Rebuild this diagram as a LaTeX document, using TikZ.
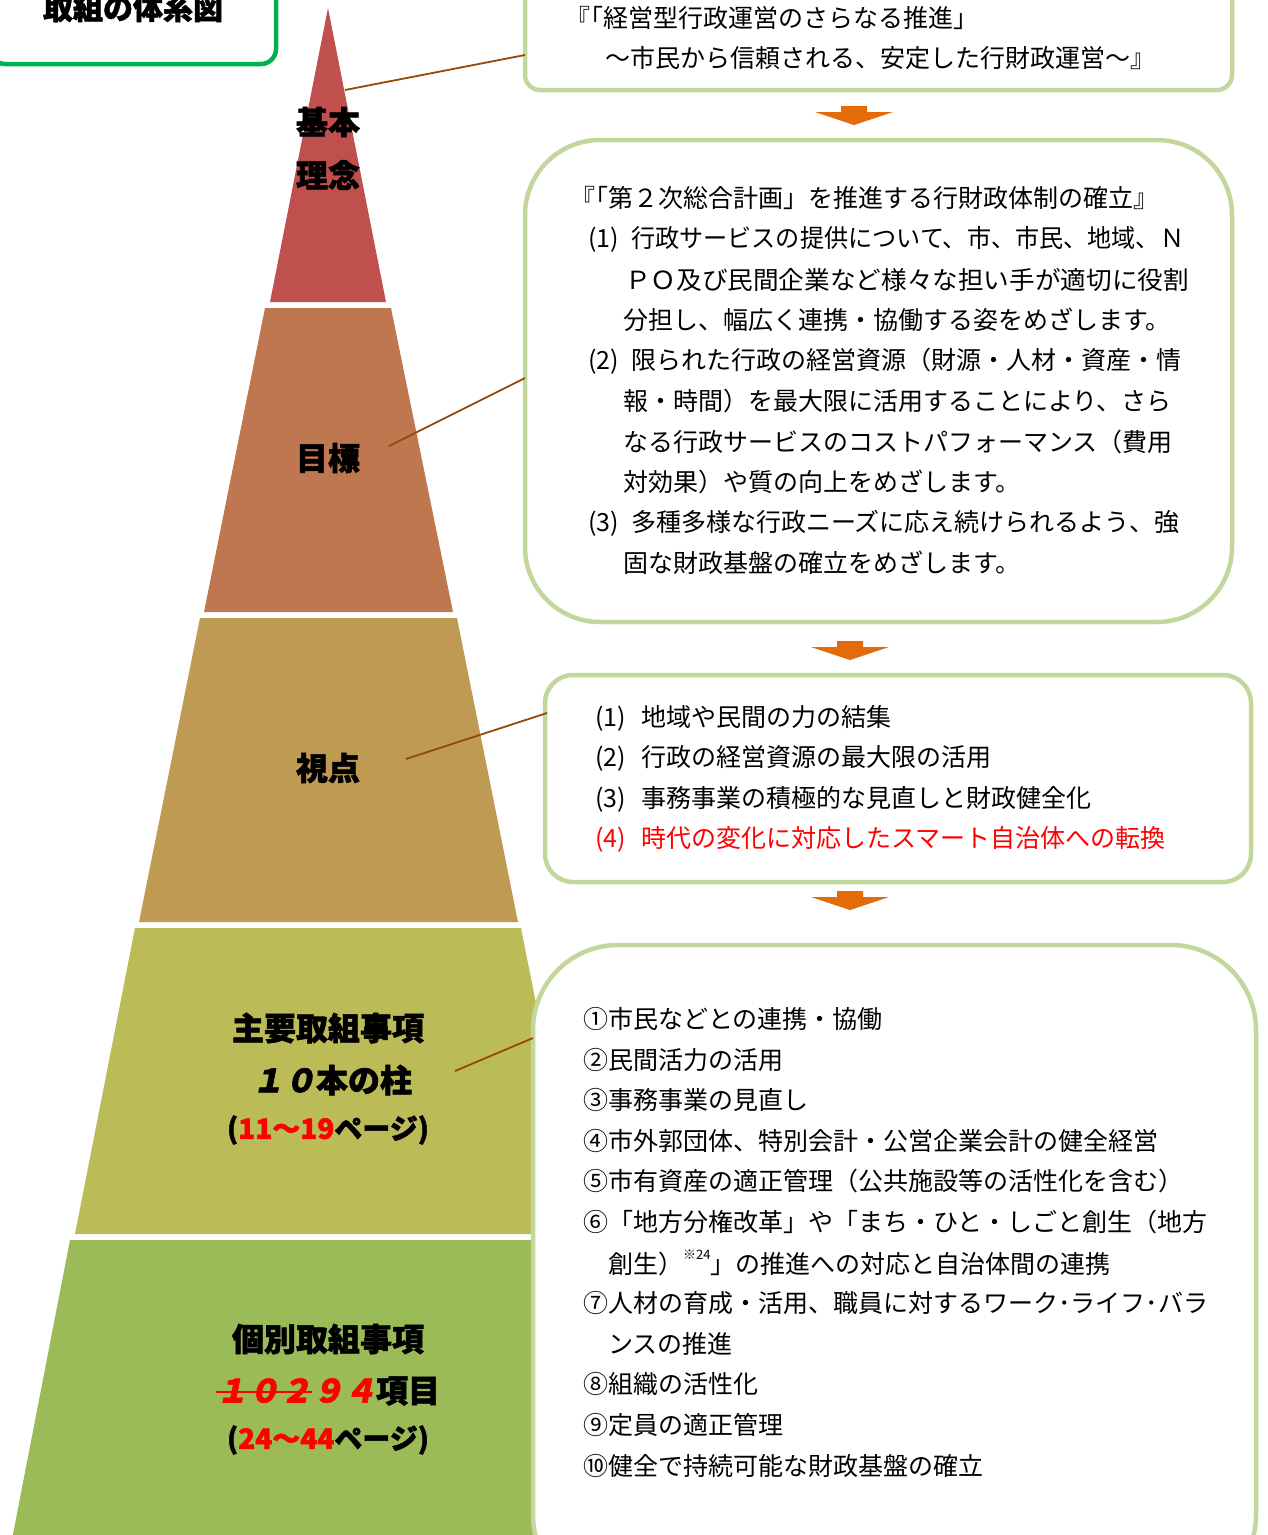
\documentclass[tikz,border=0pt]{standalone}
\usepackage{fontspec}
\usepackage{graphicx}
\newfontfamily\jp{Noto Sans CJK JP}
\newfontfamily\jph{Noto Sans CJK JP}[BoldFeatures={FakeBold=1.6}]
\newfontfamily\jpsl{Noto Sans CJK JP}[FakeSlant=0.2, BoldFeatures={FakeBold=1.6}]
\usetikzlibrary{calc}
\definecolor{tierA}{HTML}{C0504D}
\definecolor{tierB}{HTML}{BF7750}
\definecolor{tierC}{HTML}{BE9A52}
\definecolor{tierD}{HTML}{BBBB58}
\definecolor{tierE}{HTML}{9BBB59}
\definecolor{boxline}{HTML}{C3D69B}
\definecolor{titleline}{HTML}{00B050}
\definecolor{arrowc}{HTML}{E36C09}
\definecolor{conn}{HTML}{984806}
\newcommand\strk[1]{\sbox0{#1}\rlap{\raisebox{0.3em}{\color{red}\rule{\wd0}{2pt}}}\usebox0}
\newcommand\openq{\hspace*{-0.5em}『\hspace{-0.5em}「}
\newcommand\itm[2]{\makebox[#1][l]{#2}}
\tikzset{
  txt/.style={anchor=west, inner sep=0pt, font=\jp\fontsize{25}{30}\selectfont},
  lbl/.style={inner sep=0pt, font=\jph\bfseries\fontsize{32}{36}\selectfont},
  bx/.style={draw=boxline, line width=4.5pt, fill=white},
  connector/.style={draw=conn, line width=1.8pt},
  blockarrow/.style={fill=arrowc}
}
\begin{document}
\begin{tikzpicture}[x=1pt, y=-1pt]
\useasboundingbox (0,0) rectangle (1268,1535);
\clip (0,0) rectangle (1268,1535);
% title box
\draw[titleline, line width=4.5pt, rounded corners=15pt] (-10,-60) rectangle (276,64);
\node[lbl, font=\jph\bfseries\fontsize{30}{34}\selectfont] (title) at (133,8) {取組の体系図};
% pyramid
\fill[tierA] (328,8) -- (386,302) -- (270,302) -- cycle;
\fill[tierB] (265,308) -- (391,308) -- (453,612) -- (204,612) -- cycle;
\fill[tierC] (200,618) -- (457,618) -- (518,922) -- (139,922) -- cycle;
\fill[tierD] (135,928) -- (521,928) -- (582,1234) -- (75,1234) -- cycle;
\fill[tierE] (70,1240) -- (587,1240) -- (650,1560) -- (8,1560) -- cycle;
% pyramid labels
\node[lbl] (kihon1) at (328,122) {基本};
\node[lbl] (kihon2) at (328,175) {理念};
\node[lbl] (mokuhyo) at (328,458) {目標};
\node[lbl] (shiten) at (328,768) {視点};
\node[lbl] (shuyo1) at (328,1028) {主要取組事項};
\node[lbl] (shuyo2) at (332,1080) {{\jpsl\bfseries １０}本の柱};
\node[lbl, font=\jph\bfseries\fontsize{28}{32}\selectfont] (shuyo3) at (328,1130) {(\textcolor{red}{11～19}ページ)};
\node[lbl] (kobetsu1) at (328,1339) {個別取組事項};
\node[lbl] (kobetsu2) at (328,1391) {\textcolor{red}{\jpsl\bfseries\strk{１０２}９４}項目};
\node[lbl, font=\jph\bfseries\fontsize{28}{32}\selectfont] (kobetsu3) at (328,1440) {(\textcolor{red}{24～44}ページ)};
% boxes
\draw[bx, rounded corners=15pt] (525,-60) rectangle (1232,90);
\draw[bx, rounded corners=75pt] (525,140) rectangle (1232,622);
\draw[bx, rounded corners=28pt] (545,675) rectangle (1251,882);
\draw[bx, rounded corners=85pt] (533,945) rectangle (1256,1600);
% connectors
\coordinate (p1) at (345,90);  \coordinate (e1) at (525,55);
\coordinate (p2) at (389,446); \coordinate (e2) at (525,378);
\coordinate (p3) at (406,759); \coordinate (e3) at (547,713);
\coordinate (p4) at (455,1071); \coordinate (e4) at (533,1038);
\draw[connector] (p1) -- (e1);
\draw[connector] (p2) -- (e2);
\draw[connector] (p3) -- (e3);
\draw[connector] (p4) -- (e4);
% block arrows
\foreach \ax/\ay in {854/115, 850/650, 850/900}{
  \fill[blockarrow, shift={(\ax,\ay)}] (-13,-9) -- (13,-9) -- (13,-3) -- (39,-3) -- (0,10) -- (-39,-3) -- (-13,-3) -- cycle;
}
% box 1 text
\node[txt] (b1a) at (578,18) {\openq 経営型行政運営のさらなる推進」};
\node[txt] (b1b) at (605,58) {～市民から信頼される、安定した行財政運営～』};
% box 2 text
\node[txt] (b2a) at (583,198) {\openq 第２次総合計画」を推進する行財政体制の確立』};
\node[txt] (b2b) at (588,239) {\itm{43pt}{(1)}\scalebox{0.965}[1]{行政サービスの提供について、市、市民、地域、Ｎ}};
\node[txt] (b2c) at (625,280) {\scalebox{1.025}[1]{ＰＯ及び民間企業など様々な担い手が適切に役割}};
\node[txt] (b2d) at (623,320) {分担し、幅広く連携・協働する姿をめざします。};
\node[txt] (b2e) at (588,361) {\itm{43pt}{(2)}限られた行政の経営資源（財源・人材・資産・情};
\node[txt] (b2f) at (623,401) {報・時間）を最大限に活用することにより、さら};
\node[txt] (b2g) at (623,442) {なる行政サービスのコストパフォーマンス（費用};
\node[txt] (b2h) at (623,482) {対効果）や質の向上をめざします。};
\node[txt] (b2i) at (588,523) {\itm{43pt}{(3)}多種多様な行政ニーズに応え続けられるよう、強};
\node[txt] (b2j) at (623,563) {固な財政基盤の確立をめざします。};
% box 3 text
\node[txt] (b3a) at (595,718) {\itm{46pt}{(1)}地域や民間の力の結集};
\node[txt] (b3b) at (595,758) {\itm{46pt}{(2)}行政の経営資源の最大限の活用};
\node[txt] (b3c) at (595,799) {\itm{46pt}{(3)}事務事業の積極的な見直しと財政健全化};
\node[txt, text=red] (b3d) at (595,839) {\itm{46pt}{(4)}時代の変化に対応したスマート自治体への転換};
% box 4 text
\node[txt] (b4a) at (583,1019) {①市民などとの連携・協働};
\node[txt] (b4b) at (583,1060) {②民間活力の活用};
\node[txt] (b4c) at (583,1100) {③事務事業の見直し};
\node[txt] (b4d) at (583,1141) {④市外郭団体、特別会計・公営企業会計の健全経営};
\node[txt] (b4e) at (583,1181) {⑤市有資産の適正管理（公共施設等の活性化を含む）};
\node[txt] (b4f) at (583,1222) {⑥「地方分権改革」や「まち・ひと・しごと創生（地方};
\node[txt] (b4g) at (608,1263) {創生）\raisebox{0.55em}{\fontsize{13}{13}\selectfont ※24}」の推進への対応と自治体間の連携};
\node[txt] (b4h) at (583,1303) {⑦人材の育成・活用、職員に対するワーク･ライフ･バラ};
\node[txt] (b4i) at (608,1344) {ンスの推進};
\node[txt] (b4j) at (583,1384) {⑧組織の活性化};
\node[txt] (b4k) at (583,1425) {⑨定員の適正管理};
\node[txt] (b4l) at (583,1466) {⑩健全で持続可能な財政基盤の確立};
\end{tikzpicture}
\end{document}
